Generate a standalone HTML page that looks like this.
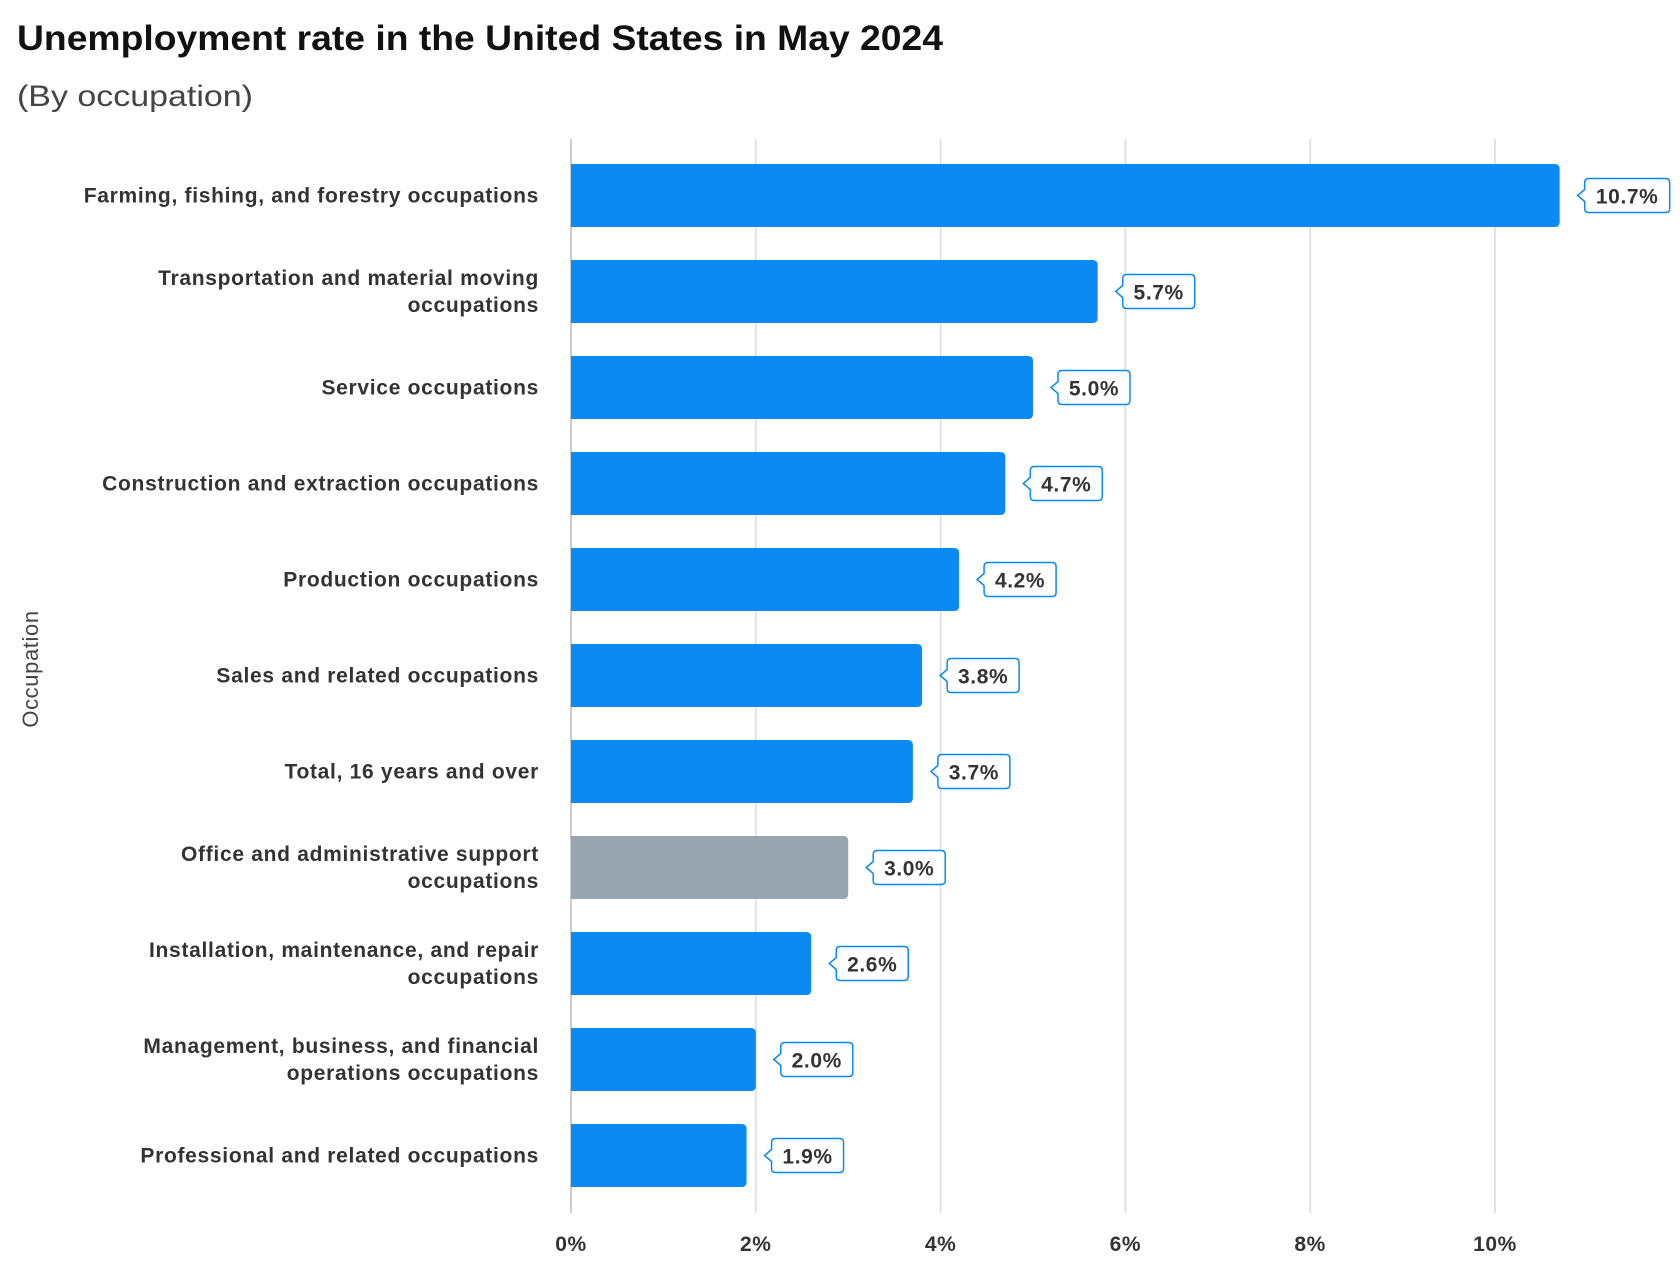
<!DOCTYPE html>
<html><head><meta charset="utf-8"><style>
body{margin:0;background:#fff;font-family:"Liberation Sans",sans-serif;}
svg text{font-family:"Liberation Sans",sans-serif;}
</style></head><body>
<svg id="c" width="1680" height="1271" xmlns="http://www.w3.org/2000/svg">
<text x="17" y="50" font-size="35" font-weight="bold" fill="#111" textLength="926" lengthAdjust="spacingAndGlyphs">Unemployment rate in the United States in May 2024</text>
<text x="17" y="106" font-size="30" fill="#444" textLength="236" lengthAdjust="spacingAndGlyphs">(By occupation)</text>
<text transform="translate(38,669) rotate(-90)" text-anchor="middle" font-size="22" fill="#444" letter-spacing="0.6">Occupation</text>
<g id="grid"></g><g id="bars"></g>
</svg>
<script>
const categories=[["Farming, fishing, and forestry occupations"],["Transportation and material moving","occupations"],["Service occupations"],["Construction and extraction occupations"],["Production occupations"],["Sales and related occupations"],["Total, 16 years and over"],["Office and administrative support","occupations"],["Installation, maintenance, and repair","occupations"],["Management, business, and financial","operations occupations"],["Professional and related occupations"]];
const values=[10.7,5.7,5.0,4.7,4.2,3.8,3.7,3.0,2.6,2.0,1.9];
const highlight=[false,false,false,false,false,false,false,true,false,false,false];
const ticks=[0,2,4,6,8,10];
const NS="http://www.w3.org/2000/svg";
const x0=571,pxPer=92.4,top0=164,step=96,bh=63;
const xs=v=>x0+v*pxPer, ys=i=>top0+i*step;
function mk(t,a,p){const e=document.createElementNS(NS,t);for(const k in a)e.setAttribute(k,a[k]);p.appendChild(e);return e;}
const grid=document.getElementById('grid'),bars=document.getElementById('bars');
ticks.forEach(t=>{
 const l=mk('line',{x1:xs(t),x2:xs(t),y1:139,y2:1213,stroke:t===0?'#ccc':'#e2e2e2','stroke-width':2},grid);
 
 
 const tx=mk('text',{x:xs(t),y:1251,'text-anchor':'middle','font-size':21,'font-weight':'bold',fill:'#333','letter-spacing':0.6},grid);
 tx.textContent=t+'%';
 
 
});
values.forEach((v,i)=>{
 const y=ys(i),w=xs(v)-x0,r=5;
 const p=mk('path',{d:`M${x0},${y}H${x0+w-r}Q${x0+w},${y} ${x0+w},${y+r}V${y+bh-r}Q${x0+w},${y+bh} ${x0+w-r},${y+bh}H${x0}Z`,fill:highlight[i]?'#98a4ae':'#0a8af2'},bars);
 
 
 const lines=categories[i],cy=y+bh/2;
 lines.forEach((s,j)=>{
  const t=mk('text',{x:539,y:cy+7+(j-(lines.length-1)/2)*27,'text-anchor':'end','font-size':21,'font-weight':'bold',fill:'#333','letter-spacing':0.7},bars);
  t.textContent=s;
  
  
 });
 const label=v.toFixed(1)+'%',bw=label.length*13+20,bx=xs(v)+25;
 const g=mk('path',{d:`M${bx+4},${cy-17}H${bx+bw-4}Q${bx+bw},${cy-17} ${bx+bw},${cy-13}V${cy+13}Q${bx+bw},${cy+17} ${bx+bw-4},${cy+17}H${bx+4}Q${bx},${cy+17} ${bx},${cy+13}V${cy+6}L${bx-7},${cy}L${bx},${cy-6}V${cy-13}Q${bx},${cy-17} ${bx+4},${cy-17}Z`,fill:'#fff',stroke:'#0a8af2','stroke-width':1.5},bars);
 
 
 const vt=mk('text',{x:bx+bw/2,y:cy+8,'text-anchor':'middle','font-size':21,'font-weight':'bold',fill:'#333','letter-spacing':0.6},bars);
 vt.textContent=label;
 
 
});
</script>
</body></html>
